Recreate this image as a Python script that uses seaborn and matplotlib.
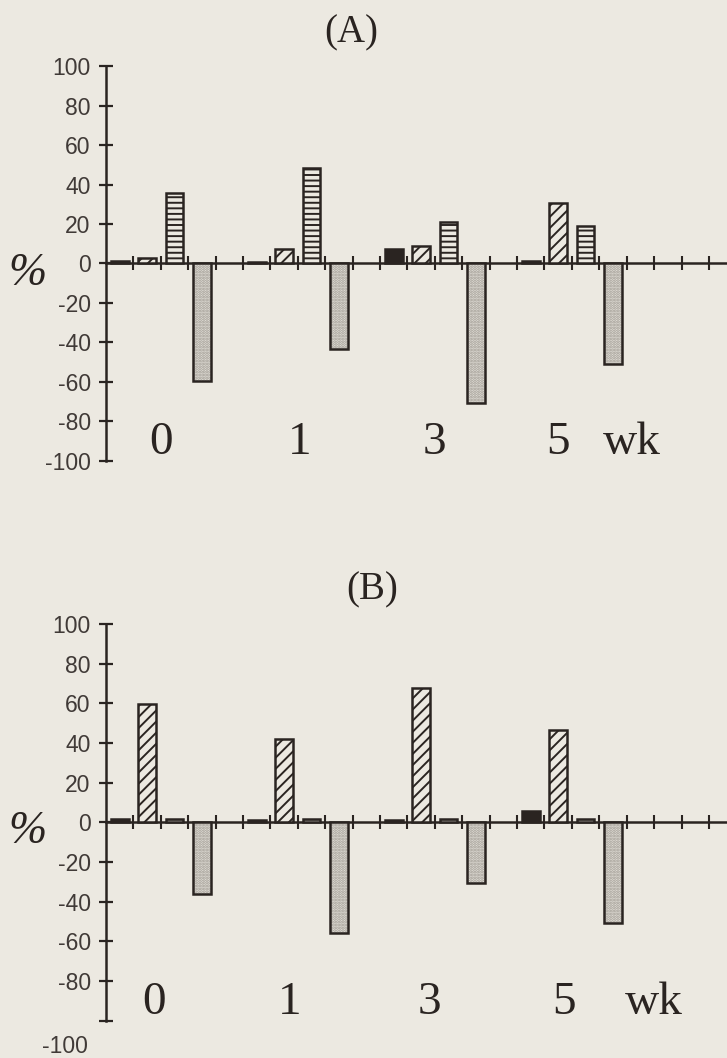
import matplotlib
matplotlib.use("Agg")
import matplotlib.pyplot as plt
import pandas as pd
import seaborn as sns

# ---- data -------------------------------------------------------------
weeks = ["0", "1", "3", "5"]
series = ["solid", "diagonal", "striped", "stippled"]

a_solid = [1.5, 1.0, 7.3, 1.5]
a_diagonal = [3.0, 7.2, 8.9, 30.8]
a_striped = [35.9, 48.5, 21.1, 18.8]
a_stippled = [-59.4, -43.1, -70.5, -50.9]

b_solid = [1.5, 1.2, 1.2, 5.8]
b_diagonal = [59.5, 42.1, 67.6, 46.4]
b_striped = [1.5, 1.5, 1.5, 1.5]
b_stippled = [-36.3, -55.6, -30.7, -50.9]

y_ticks = [-100, -80, -60, -40, -20, 0, 20, 40, 60, 80, 100]
y_tick_labels = ["-100", "-80", "-60", "-40", "-20", "0", "20", "40", "60", "80", "100"]

# ---- style ------------------------------------------------------------
BG = "#ece9e1"
INK = "#2a2421"
LABEL_INK = "#403a37"
fills = {"solid": INK, "diagonal": BG, "striped": BG, "stippled": "#e3e0d9"}
hatches = {"solid": "", "diagonal": "///", "striped": "---", "stippled": "......"}
hatch_colors = {"solid": INK, "diagonal": INK, "striped": INK, "stippled": "#9e9991"}

sns.set_theme(style="white")
plt.rcParams.update({
    "figure.facecolor": BG,
    "axes.facecolor": BG,
    "savefig.facecolor": BG,
    "hatch.linewidth": 1.4,
})
plt.rcParams["font.family"] = ["Liberation Sans", "DejaVu Sans"]

SLOTS_PER_GROUP = 5
N_SLOTS = 22.66
BAR_W = 0.65

fig = plt.figure(figsize=(7.27, 10.58), dpi=100)
ax_a = fig.add_axes([0.1458, 0.5643, 0.8542, 0.3733])
ax_b = fig.add_axes([0.1458, 0.0354, 0.8542, 0.3748])


def frame(values):
    rows = []
    for s_idx, name in enumerate(series):
        for g_idx, v in enumerate(values[name]):
            rows.append({"slot": g_idx * SLOTS_PER_GROUP + s_idx + 0.5,
                         "value": v, "series": name})
    return pd.DataFrame(rows)


def draw_panel(ax, values, title, title_x, week_x, wk_x, drop_last_label):
    df = frame(values)
    # filled, hatched bars
    sns.barplot(data=df, x="slot", y="value", hue="series", hue_order=series,
                palette=fills, native_scale=True, width=BAR_W, dodge=False,
                errorbar=None, legend=False, saturation=1, linewidth=0.01,
                ax=ax, zorder=3)
    for cont, name in zip(ax.containers, series):
        for p in cont:
            p.set_hatch(hatches[name])
            p.set_edgecolor(hatch_colors[name])
    # outlines
    sns.barplot(data=df, x="slot", y="value", native_scale=True, width=BAR_W,
                errorbar=None, fill=False, color=INK, linewidth=1.8, ax=ax,
                zorder=4)

    ax.set_xlim(0, N_SLOTS)
    ax.set_ylim(-100, 100)
    ax.set_xlabel("")
    ax.set_ylabel("")

    for side in ("top", "right"):
        ax.spines[side].set_visible(False)
    ax.spines["bottom"].set_position(("data", 0))
    for side in ("left", "bottom"):
        ax.spines[side].set_color(INK)
        ax.spines[side].set_linewidth(1.8)
        ax.spines[side].set_zorder(2)

    ax.set_xticks(range(1, 23))
    ax.set_xticklabels([])
    ax.tick_params(axis="x", direction="inout", length=9.5, width=1.5,
                   color=INK, bottom=True)
    labels = list(y_tick_labels)
    if drop_last_label:
        labels[0] = ""
    ax.set_yticks(y_ticks)
    ax.set_yticklabels(labels)
    ax.tick_params(axis="y", direction="inout", length=10, width=1.6,
                   color=INK, left=True, pad=6, labelsize=16.5,
                   labelcolor=LABEL_INK)
    if drop_last_label:
        ax.text(-0.66, -113, "-100", ha="right", va="center", fontsize=16.5,
                color=LABEL_INK, clip_on=False)

    serif = ["Liberation Serif", "DejaVu Serif"]
    ax.text(title_x, 117, title, ha="center", va="center", fontsize=28,
            family=serif, color=INK, clip_on=False)
    for x, w in zip(week_x, weeks):
        ax.text(x, -91, w, ha="center", va="center", fontsize=34,
                family=serif, color=INK, clip_on=False)
    ax.text(wk_x, -91, "wk", ha="center", va="center", fontsize=34,
            family=serif, color=INK, clip_on=False)
    ax.text(-2.88, -5, "%", ha="center", va="center", fontsize=33,
            family=serif, style="italic", color=INK, clip_on=False)


draw_panel(ax_a,
           {"solid": a_solid, "diagonal": a_diagonal,
            "striped": a_striped, "stippled": a_stippled},
           "(A)", 8.95, [2.0, 7.05, 12.0, 16.5], 19.2, False)
draw_panel(ax_b,
           {"solid": b_solid, "diagonal": b_diagonal,
            "striped": b_striped, "stippled": b_stippled},
           "(B)", 9.7, [1.75, 6.7, 11.8, 16.7], 20.0, True)

fig.savefig("out.png", dpi=100)
